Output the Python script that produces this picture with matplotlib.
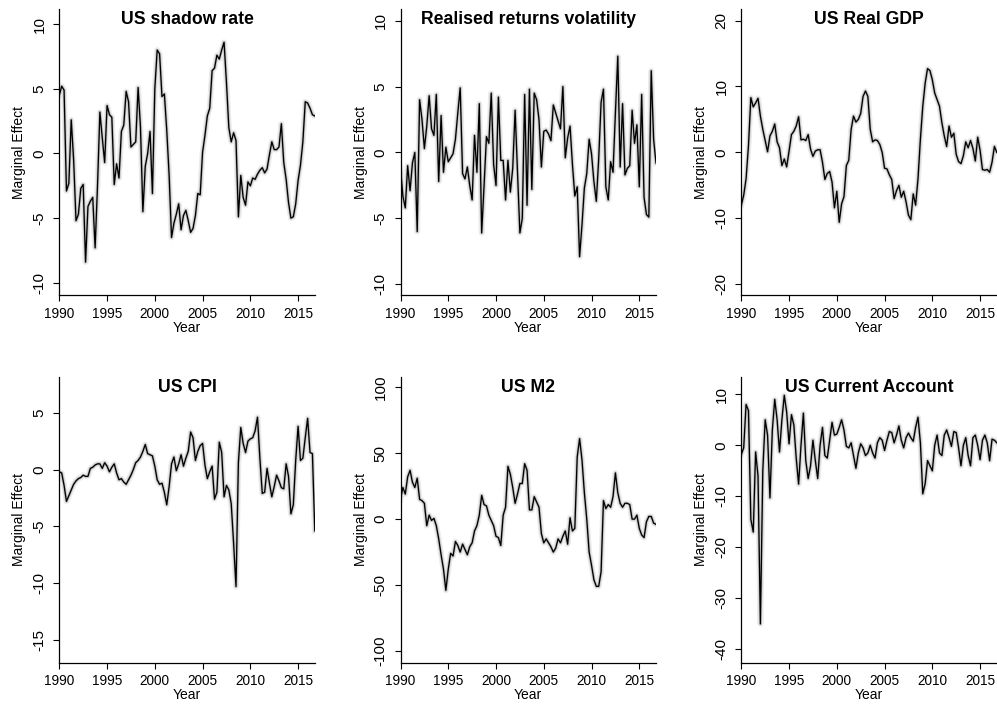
import numpy as np
import matplotlib
matplotlib.use("Agg")
import matplotlib.pyplot as plt

plt.rcParams['font.family'] = ['Liberation Sans', 'DejaVu Sans']

# ---------------- data (quarterly, 1990Q1 - 2016Q4) ----------------
start_year = 1990
n_quarters = 108

titles = ["US shadow rate", "Realised returns volatility", "US Real GDP",
          "US CPI", "US M2", "US Current Account"]

shadow_rate = [
    4.5, 5.2, 4.9, -2.9,   -2.3, 2.6, -0.5, -5.2,   -4.7, -2.7, -2.4, -8.4,
    -4.1, -3.7, -3.4, -7.3,   -2.5, 3.2, 1.2, -0.7,   3.7, 3.0, 2.8, -2.4,
    -0.8, -1.9, 1.7, 2.2,   4.8, 4.0, 0.5, 0.7,   0.9, 5.1, 2.0, -4.5,
    -1.0, 0.0, 1.7, -3.1,   5.0, 8.0, 7.7, 4.4,   4.6, 1.8, -1.7, -6.5,
    -5.4, -4.7, -3.9, -5.9,   -4.8, -4.4, -5.2, -6.1,   -5.8, -4.8, -3.1, -3.2,
    0.1, 1.4, 2.9, 3.5,   6.4, 6.6, 7.6, 7.3,   8.0, 8.6, 5.5, 2.0,
    0.9, 1.6, 1.0, -4.9,   -1.7, -3.4, -4.0, -2.2,   -2.5, -1.9, -2.0, -1.6,
    -1.3, -1.1, -1.5, -1.2,   -0.1, 0.9, 0.3, 0.3,   0.5, 2.3, -0.7, -2.0,
    -3.8, -5.0, -4.9, -3.9,   -2.1, -0.9, 0.9, 4.0,   3.9, 3.5, 3.0, 2.9]

returns_volatility = [
    -1.2, -3.3, -4.2, -1.0,   -2.9, -0.8, 0.0, -6.0,   4.0, 2.5, 0.3, 2.0,
    4.3, 1.8, 1.3, 4.4,   -2.2, 2.8, -1.5, 0.4,   -0.7, -0.4, -0.1, 1.0,
    3.0, 4.9, -1.6, -2.0,   -1.1, -2.5, -3.6, 1.3,   -1.5, 3.7, -6.1, -2.5,
    1.2, 0.7, 4.5, -0.9,   -2.5, 4.2, -0.6, -0.6,   -3.6, -0.6, -3.0, -1.2,
    3.2, -1.5, -6.1, -5.0,   4.4, -4.0, 4.8, -2.8,   4.5, 4.0, 2.5, -1.1,
    1.6, 1.7, 1.4, 0.9,   3.6, 3.0, 2.4, 1.8,   5.0, -0.4, 1.1, 2.0,
    -0.9, -3.3, -2.6, -7.9,   -5.5, -2.7, -1.6, 1.0,   -0.1, -2.2, -3.7, -0.5,
    3.8, 4.8, -2.6, -3.6,   -0.7, -1.5, 3.0, 7.3,   -1.1, 3.7, -1.7, -1.2,
    -1.0, 3.2, 0.7, 2.1,   -2.6, 4.4, -3.4, -4.7,   -4.9, 6.2, 1.0, -0.8]

real_gdp = [
    -8.0, -6.5, -4.0, 1.0,   8.3, 6.9, 7.5, 8.2,   5.5, 3.5, 1.8, 0.1,
    2.5, 3.2, 4.3, 1.6,   0.7, -2.0, -1.0, -2.2,   0.2, 2.7, 3.2, 4.0,
    5.4, 1.9, 2.0, 1.8,   2.7, 0.5, -0.6, 0.2,   0.4, 0.4, -1.5, -4.1,
    -3.2, -2.9, -4.5, -8.4,   -5.9, -10.6, -7.8, -6.7,   -2.0, -1.2, 3.5, 5.5,
    4.6, 5.0, 5.9, 8.5,   9.3, 8.5, 3.5, 1.6,   1.9, 1.8, 1.2, 0.0,
    -2.4, -2.5, -3.4, -4.1,   -7.0, -5.8, -5.0, -6.8,   -5.9, -7.5, -9.5, -10.2,
    -6.3, -8.0, -4.0, 2.0,   7.0, 10.5, 12.7, 12.4,   11.0, 9.0, 8.0, 7.0,
    4.5, 2.5, 0.9, 4.0,   2.3, 2.9, -0.3, -1.4,   -1.7, -0.5, 1.6, 0.7,
    1.8, 0.6, -1.3, 2.3,   0.3, -2.6, -2.7, -2.6,   -3.0, -1.5, 0.9, 0.0]

cpi = [
    -0.2, -0.3, -1.4, -2.8,   -2.3, -1.8, -1.3, -1.0,   -0.8, -0.7, -0.5, -0.6,
    -0.6, 0.1, 0.2, 0.4,   0.5, 0.5, 0.1, 0.6,   0.3, -0.2, 0.2, 0.5,
    -0.3, -0.9, -0.8, -1.1,   -1.3, -0.9, -0.5, 0.0,   0.6, 0.8, 1.1, 1.6,
    2.2, 1.4, 1.3, 1.2,   0.3, -0.9, -1.3, -1.2,   -2.0, -3.1, -1.5, 0.5,
    1.1, -0.1, 0.5, 1.3,   0.3, 1.0, 1.6, 3.3,   2.8, 0.8, 1.6, 2.1,
    2.3, 0.4, -0.8, -0.2,   0.3, -2.6, -2.0, 2.4,   1.5, -2.4, -1.4, -1.8,
    -3.0, -6.5, -10.3, 0.6,   3.7, 2.3, 1.5, 2.5,   2.7, 2.8, 3.4, 4.6,
    1.0, -2.1, -2.0, 0.1,   -1.2, -2.4, -1.5, -0.5,   -1.0, -1.6, -1.7, 0.5,
    -0.6, -3.9, -3.1, 0.8,   3.8, 0.8, 1.0, 2.8,   4.5, 1.5, 1.4, -5.4]

m2 = [
    15, 24, 19, 32,   37, 28, 24, 31,   15, 14, 12, -5,
    3, -1, 0.5, -5,   -15, -27, -38, -54,   -38, -26, -28, -17,
    -20, -25, -19, -23,   -27, -21, -18, -9,   -5, 3, 18, 11,
    10, 3, -1, -5,   -13, -14, -20, 3,   9, 40, 34, 24,
    12, 19, 27, 27,   42, 37, 7, 7,   17, 13, 9, -11,
    -18, -15, -18, -21,   -25, -22, -15, -18,   -13, -9, -19, 1,
    -9, -7, 47, 61,   45, 20, 0, -25,   -35, -46, -51, -51,
    -40, 14, 8, 11,   9, 17, 35, 20,   12, 9, 12, 12,
    11, 0, 0, 3,   -7, -12, -14, -2,   2, 2, -3, -4]

current_account = [
    -1.8, -0.5, 8.0, 6.8,   -14.5, -17.0, -1.3, -6.0,   -35.0, -5.0, 5.0, 2.0,
    -10.3, 3.0, 9.0, 5.0,   -1.3, 5.0, 9.8, 6.5,   0.3, 6.0, 4.0, -2.5,
    -7.6, 0.0, 6.3, -3.0,   -6.5, -4.0, 1.0, -3.0,   -6.5, 0.0, 3.5, -2.0,
    -2.5, 1.0, 4.5, 2.0,   2.2, 3.5, 5.0, 3.0,   -0.2, -0.5, 0.5, -2.0,
    -4.5, -1.5, 0.3, -0.5,   -2.0, -1.5, 0.0, -1.5,   -2.5, 0.5, 1.5, 1.0,
    -1.0, 1.0, 2.7, 2.5,   0.5, 2.0, 3.8, 1.0,   -0.5, 1.5, 2.4, 1.5,
    0.8, 3.5, 5.5, 0.5,   -9.5, -7.5, -3.0, -4.0,   -5.0, 0.0, 2.0, -1.5,
    -2.0, 2.0, 3.0, 1.5,   -0.2, 2.7, 2.5, -0.5,   -4.0, 0.0, 1.5, -2.0,
    -4.0, 1.5, 2.0, 0.0,   -2.8, 1.0, 2.0, 0.5,   -3.0, 1.2, 1.0, 0.5]

x_ticks = [1990, 1995, 2000, 2005, 2010, 2015]
y_ticks = [[-10, -5, 0, 5, 10],
           [-10, -5, 0, 5, 10],
           [-20, -10, 0, 10, 20],
           [-15, -10, -5, 0, 5],
           [-100, -50, 0, 50, 100],
           [-40, -30, -20, -10, 0, 10]]
y_limits = [(-10.97, 11.15), (-10.83, 10.86), (-21.67, 21.7),
            (-17.0, 8.17), (-108.9, 108.0), (-42.6, 13.45)]

series = [shadow_rate, returns_volatility, real_gdp, cpi, m2, current_account]
for s in series:
    assert len(s) == n_quarters, len(s)

t = start_year + np.arange(n_quarters) / 4.0

# ---------------- figure ----------------
W, H = 997, 706
fig = plt.figure(figsize=(W / 100, H / 100), dpi=100)

lefts = [59.3, 400.5, 741.3]
tops = [9.3, 376.7]
aw, ah = 255.5, 286.0

for i, (title, vals) in enumerate(zip(titles, series)):
    r, c = divmod(i, 3)
    ax = fig.add_axes([lefts[c] / W, (H - tops[r] - ah) / H, aw / W, ah / H])
    v = np.asarray(vals, dtype=float)
    ax.plot(t, v, color='#ececec', lw=4.2, solid_joinstyle='round', zorder=1)
    ax.plot(t, v, color='#c4c4c4', lw=2.2, solid_joinstyle='round', zorder=2)
    ax.plot(t, v, color='black', lw=0.95, zorder=3)

    ax.set_xlim(1990, 2016.75)
    ax.set_ylim(*y_limits[i])
    ax.set_xticks(x_ticks)
    ax.set_yticks(y_ticks[i])
    ax.set_yticklabels([str(v_) for v_ in y_ticks[i]])

    for side in ('top', 'right'):
        ax.spines[side].set_visible(False)
    for side in ('left', 'bottom'):
        ax.spines[side].set_linewidth(0.9)
        ax.spines[side].set_color('black')

    ax.tick_params(axis='both', direction='out', length=4.3, width=0.8,
                   colors='black')
    ax.tick_params(axis='x', pad=4.0, labelsize=9.8)
    ax.tick_params(axis='y', pad=5.0, labelsize=11, labelrotation=90)
    for lab in ax.get_yticklabels():
        lab.set_verticalalignment('center')

    ax.set_ylabel('Marginal Effect', fontsize=10)
    ax.yaxis.set_label_coords(-40.0 / aw, 0.5)
    ax.yaxis.label.set_verticalalignment('center')
    ax.set_xlabel('Year', fontsize=10)
    ax.xaxis.set_label_coords(0.5, -32.3 / ah)
    ax.xaxis.label.set_verticalalignment('center')

    ax.text(0.5, 1 - 10.5 / ah, title, transform=ax.transAxes,
            ha='center', va='center', fontsize=12.7, fontweight='bold')

fig.savefig('out.png', dpi=100)
